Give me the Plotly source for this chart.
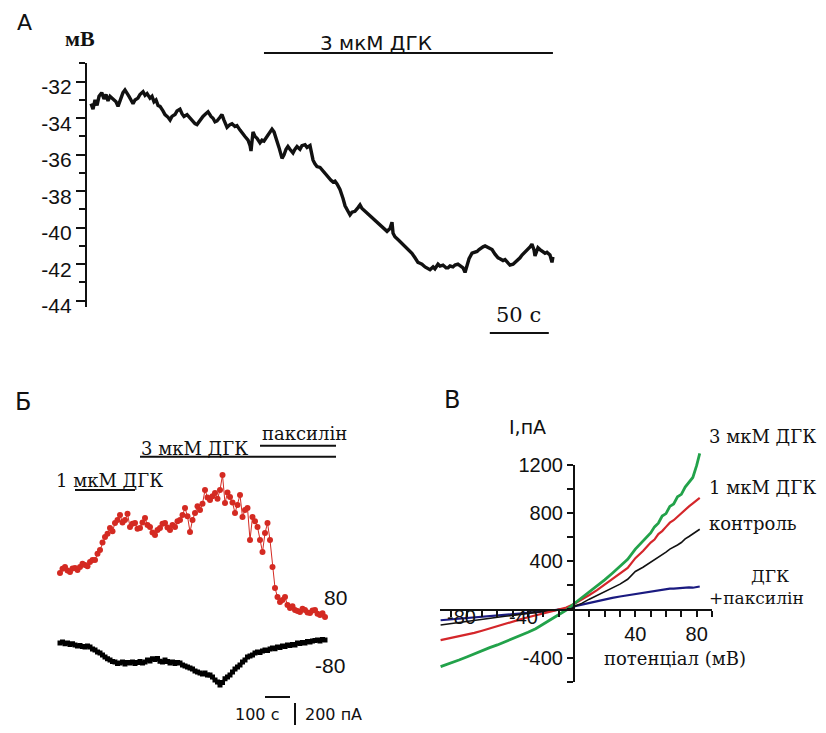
import plotly.graph_objects as go

# page body has an 8 px margin: the figure is sized to fit inside it
OFF = 8
W, H = 826 - 2 * OFF, 733 - 2 * OFF

def xp(px):
    return (px - OFF) / W

def yp(py):
    return 1 - (py - OFF) / H

# ---------------- Panel A: membrane potential (mV) vs time (s) ----------------
t_A = [0, 1.7, 3.4, 5.1, 6.8, 9.1, 11.0, 12.7, 14.4, 16.1, 18.6, 21.2, 22.9, 25.4, 27.1, 28.8,
       30.5, 32.2, 33.9, 35.6, 37.3, 39.8, 41.5, 44.1, 45.8, 47.5, 50.0, 51.7, 53.4, 55.1, 56.8,
       58.5, 61.0, 62.7, 65.3, 67.0, 68.6, 71.2, 72.9, 75.4, 77.1, 78.8, 81.4, 83.9, 85.6, 88.1,
       89.8, 92.4, 94.9, 96.6, 99.2, 101.7, 103.4, 105.1, 106.8, 109.3, 111.0, 112.7, 115.3,
       117.8, 119.5, 122.0, 123.7, 126.3, 128.8, 130.5, 133.1, 134.8, 135.6, 137.3, 139.0, 140.7,
       143.2, 144.9, 146.6, 149.2, 151.7, 153.4, 155.1, 157.6, 159.3, 161.9, 163.6, 165.3, 166.9,
       168.6, 171.2, 172.9, 174.6, 177.1, 178.8, 181.4, 183.1, 185.6, 188.2, 189.8, 191.5, 194.1,
       196.6, 199.2, 200.9, 203.4, 205.1, 206.8, 208.5, 211.0, 213.6, 215.3, 217.8, 219.5, 221.2,
       223.7, 226.3, 228.0, 229.7, 232.2, 234.8, 236.5, 238.1, 241.5, 244.9, 248.3, 250.9, 253.4,
       255.1, 256.0, 257.6, 261.0, 264.4, 267.0, 268.7, 270.4, 272.0, 274.6, 277.1, 278.8, 280.5,
       283.1, 284.8, 287.3, 289.9, 291.5, 294.1, 295.8, 298.3, 300.9, 302.6, 304.3, 306.8, 308.5,
       311.0, 312.7, 315.3, 317.0, 318.7, 320.4, 322.9, 325.5, 327.2, 328.9, 330.6, 332.3, 334.0,
       336.5, 338.2, 339.9, 342.4, 345.0, 346.6, 349.2, 350.9, 352.6, 355.1, 357.7, 359.3, 361.0,
       363.6, 365.3, 367.0, 369.5, 372.1, 373.7, 375.4, 376.3, 378.0, 378.8, 380.5, 382.2, 384.8,
       386.4, 389.0, 390.7, 391.5]
v_A = [-33.2, -33.5, -33.0, -33.3, -32.8, -32.6, -32.95, -32.7, -33.05, -32.8, -32.95, -33.1,
       -33.35, -32.9, -32.6, -32.45, -32.6, -32.8, -33.0, -33.2, -33.0, -32.9, -32.7, -32.55,
       -32.75, -32.65, -32.9, -32.8, -33.1, -33.0, -33.3, -33.35, -33.6, -33.8, -33.95, -34.1,
       -33.9, -33.8, -33.6, -33.5, -33.75, -33.9, -33.8, -34.0, -34.1, -34.3, -34.35, -34.1,
       -33.9, -33.8, -33.65, -33.9, -34.0, -34.2, -34.15, -33.95, -33.8, -34.1, -34.5, -34.35,
       -34.3, -34.45, -34.4, -34.65, -34.9, -35.0, -35.2, -35.5, -35.8, -34.75, -35.0, -35.1,
       -35.35, -35.2, -35.25, -35.0, -34.8, -34.6, -34.75, -35.2, -35.6, -36.2, -36.0, -35.7,
       -35.55, -35.7, -35.9, -35.7, -35.55, -35.7, -35.5, -35.45, -35.6, -35.5, -36.3, -36.5,
       -36.65, -36.7, -36.9, -37.05, -37.2, -37.4, -37.5, -37.45, -37.6, -37.9, -38.4, -38.8,
       -39.1, -39.3, -39.15, -39.1, -38.9, -38.75, -38.95, -39.1, -39.2, -39.3, -39.4, -39.6,
       -39.85, -40.0, -40.2, -40.05, -39.7, -40.3, -40.5, -40.7, -40.9, -41.05, -41.2, -41.25,
       -41.4, -41.65, -41.9, -41.95, -42.0, -42.15, -42.2, -42.3, -42.15, -42.25, -42.0, -42.1,
       -42.05, -42.2, -42.2, -42.1, -42.15, -42.05, -42.0, -42.1, -42.2, -42.45, -42.0, -41.7,
       -41.4, -41.35, -41.3, -41.2, -41.1, -41.05, -41.0, -41.1, -41.15, -41.2, -41.45, -41.65,
       -41.7, -41.8, -41.75, -41.9, -42.05, -42.0, -41.9, -41.85, -41.65, -41.5, -41.4, -41.2,
       -41.05, -40.9, -41.2, -41.55, -41.3, -41.1, -41.2, -41.3, -41.4, -41.35, -41.5, -41.9,
       -41.6]
ticks_A = [-44, -42, -40, -38, -36, -34, -32]
minor_A = [-43, -41, -39, -37, -35, -33, -31]
stim_A = [146.6, 391.5]          # 3 мкМ ДГК application (s)
scale_A = [338.0, 388.0]         # 50 s scale bar

# ---------------- Panel Б: currents at +80 / -80 mV vs time ----------------
t_B = list(range(0, 1061, 10))
i_pos80 = [536, 570, 584, 556, 544, 572, 576, 560, 584, 610, 600, 590, 624, 640, 640, 690,
           720, 780, 824, 850, 896, 870, 936, 960, 1000, 940, 960, 1010, 904, 930, 936, 890,
           896, 940, 976, 920, 904, 860, 840, 880, 896, 930, 936, 900, 880, 920, 904, 950,
           960, 1000, 1056, 990, 864, 960, 1016, 1070, 1040, 1090, 1200, 1140, 1120, 1150,
           1176, 1130, 1200, 1320, 1096, 1180, 1144, 1100, 1016, 1080, 1160, 984, 1040, 1056,
           800, 984, 950, 904, 800, 704, 856, 936, 800, 584, 416, 344, 304, 320, 344, 280,
           256, 270, 240, 232, 224, 250, 240, 220, 216, 236, 240, 210, 200, 214, 184]
i_neg80 = [-24, -16, -30, -24, -36, -30, -40, -48, -44, -52, -56, -48, -56, -72, -80, -96,
           -104, -120, -136, -150, -160, -172, -176, -188, -184, -176, -192, -180, -184, -176,
           -188, -180, -172, -184, -176, -160, -168, -150, -156, -148, -170, -176, -160, -172,
           -184, -176, -188, -180, -184, -200, -208, -216, -224, -232, -248, -256, -264, -272,
           -264, -280, -280, -296, -320, -336, -360, -340, -310, -296, -280, -256, -232, -216,
           -200, -176, -160, -136, -128, -120, -104, -96, -100, -88, -80, -84, -72, -64, -70,
           -56, -60, -48, -52, -40, -44, -36, -40, -24, -28, -20, -24, -12, -16, -8, -4, 0, -8,
           4, 0]
bar_1uM = [60, 300]       # s
bar_3uM = [320, 1104]
bar_pax = [800, 1104]
scale_t = [820, 920]      # 100 s
scale_i = [-504, -704]    # 200 pA

# ---------------- Panel В: I-V curves ----------------
v_iv = [-87, -80, -75, -70, -65, -60, -55, -50, -45, -40, -35, -30, -25, -20, -15, -10, -5,
        0, 5, 10, 15, 20, 25, 30, 35, 40, 45, 50, 52.5, 55, 57.5, 60, 62.5, 65, 67.5, 70, 72.5,
        75, 77.5, 80, 82]
i_3uM = [-470, -440, -415, -390, -362, -338, -312, -290, -265, -240, -212, -185, -155, -118,
         -80, -42, 0, 52, 100, 150, 200, 250, 305, 360, 420, 505, 570, 640, 690, 720, 780, 800,
         860, 880, 940, 960, 1020, 1060, 1100, 1200, 1300]
i_1uM = [-250, -232, -218, -205, -190, -172, -152, -132, -112, -95, -78, -60, -45, -30, -15,
         0, 20, 50, 85, 125, 165, 210, 255, 305, 350, 430, 490, 560, 585, 630, 655, 690, 725,
         745, 775, 800, 835, 860, 885, 910, 930]
i_ctrl = [-125, -112, -104, -95, -86, -78, -69, -60, -52, -45, -37, -30, -22, -15, -8, 0, 12,
          30, 55, 90, 120, 150, 180, 215, 255, 320, 355, 395, 420, 440, 455, 480, 505, 520,
          540, 560, 590, 610, 630, 650, 670]
i_pax = [-85, -78, -73, -68, -63, -58, -52, -46, -40, -35, -30, -25, -18, -12, -6, 0, 10, 30,
         45, 60, 75, 88, 100, 112, 122, 132, 142, 150, 158, 162, 170, 172, 178, 178, 182, 180,
         190, 188, 185, 192, 195]
yt_iv = [-600, -400, -200, 0, 200, 400, 600, 800, 1000, 1200]
yt_iv_text = ["", "-400", "", "", "", "400", "", "800", "", "1200"]
xt_iv = [-80, -70, -60, -50, -40, -30, -20, -10, 0, 10, 20, 30, 40, 50, 60, 70, 80, 90]
xt_iv_text = ["", "", "", "", "", "", "", "", "", "", "", "", "40", "", "", "", "80", ""]

fig = go.Figure()

# Panel A
fig.add_trace(go.Scatter(x=t_A, y=v_A, mode="lines", line=dict(color="#111111", width=3.4),
                         xaxis="x", yaxis="y", showlegend=False, hoverinfo="skip"))

# Panel Б
fig.add_trace(go.Scatter(x=t_B, y=i_pos80, mode="lines+markers",
                         line=dict(color="#d42a22", width=1),
                         marker=dict(color="#d42a22", size=6),
                         xaxis="x2", yaxis="y2", showlegend=False, hoverinfo="skip"))
fig.add_trace(go.Scatter(x=t_B, y=i_neg80, mode="lines+markers",
                         line=dict(color="#000000", width=3),
                         marker=dict(color="#000000", size=5, symbol="square"),
                         xaxis="x2", yaxis="y2", showlegend=False, hoverinfo="skip"))

# Panel В
for ys, col, w in [(i_pax, "#1a1a80", 2.2), (i_ctrl, "#111111", 1.6),
                   (i_1uM, "#d4262a", 2.2), (i_3uM, "#22a24a", 2.8)]:
    fig.add_trace(go.Scatter(x=v_iv, y=ys, mode="lines", line=dict(color=col, width=w),
                             xaxis="x3", yaxis="y3", showlegend=False, hoverinfo="skip"))
fig.add_trace(go.Scatter(x=[None], y=[None], mode="lines", xaxis="x3", yaxis="y4",
                         showlegend=False, hoverinfo="skip"))

tickfont = dict(family="Liberation Sans, Arial", size=21, color="#111111")

fig.update_layout(
    width=W, height=H, margin=dict(l=0, r=0, t=0, b=0, autoexpand=False),
    paper_bgcolor="white", plot_bgcolor="rgba(0,0,0,0)",
    xaxis=dict(domain=[xp(87), xp(556)], range=[-3.4, 394.1], visible=False,
               automargin=False),
    yaxis=dict(domain=[yp(306.7), yp(63.3)], range=[-44.33, -30.99], anchor="x",
               automargin=False,
               showline=True, linecolor="#111111", linewidth=2.2, showgrid=False,
               zeroline=False, ticks="outside", ticklen=9, tickwidth=2.2, tickcolor="#111111",
               tickvals=ticks_A, ticktext=[str(v) for v in ticks_A], tickfont=tickfont,
               ticklabelshift=5,
               minor=dict(tickvals=minor_A, ticks="outside", ticklen=6, tickwidth=2,
                          tickcolor="#111111", showgrid=False)),
    xaxis2=dict(domain=[xp(50), xp(340)], range=[-40, 1120], visible=False, anchor="y2",
                automargin=False),
    yaxis2=dict(domain=[yp(725), yp(420)], range=[-680, 1760], visible=False, anchor="x2",
                automargin=False),
    xaxis3=dict(domain=[xp(440), xp(712)], range=[-87.4, 90], anchor="free",
                automargin=False,
                position=yp(610), showline=True, linecolor="#111111", linewidth=2.2,
                showgrid=False, zeroline=False, ticks="outside", ticklen=6, tickwidth=2,
                tickcolor="#111111", tickvals=xt_iv, ticktext=xt_iv_text,
                tickfont=dict(family="Liberation Sans, Arial", size=20, color="#111111")),
    yaxis3=dict(domain=[yp(690), yp(440)], range=[-664, 1411], visible=False, anchor="x3",
                automargin=False),
    yaxis4=dict(domain=[yp(681.7), yp(465)], range=[-600, 1200], anchor="free",
                automargin=False,
                position=xp(574), showline=True, linecolor="#111111", linewidth=2.2,
                showgrid=False, zeroline=False, ticks="outside", ticklen=6, tickwidth=2,
                tickcolor="#111111", tickvals=yt_iv, ticktext=yt_iv_text,
                tickfont=dict(family="Liberation Sans, Arial", size=20, color="#111111")),
)

shapes = []
# A: stimulus bar and 50 s scale bar
shapes.append(dict(type="line", xref="x", yref="paper", x0=stim_A[0], x1=stim_A[1],
                   y0=yp(53), y1=yp(53), line=dict(color="#111111", width=2.2)))
shapes.append(dict(type="line", xref="x", yref="paper", x0=scale_A[0], x1=scale_A[1],
                   y0=yp(333), y1=yp(333), line=dict(color="#111111", width=2.2)))
# Б: drug bars, scale bars
for (a, b), yv in [(bar_1uM, 1200), (bar_3uM, 1466), (bar_pax, 1554)]:
    shapes.append(dict(type="line", xref="x2", yref="y2", x0=a, x1=b, y0=yv, y1=yv,
                       line=dict(color="#111111", width=2)))
shapes.append(dict(type="line", xref="x2", yref="y2", x0=scale_t[0], x1=scale_t[1],
                   y0=-456, y1=-456, line=dict(color="#111111", width=2)))
shapes.append(dict(type="line", xref="x2", yref="y2", x0=940, x1=940,
                   y0=scale_i[0], y1=scale_i[1], line=dict(color="#111111", width=2)))
fig.update_layout(shapes=shapes)

sans = "DejaVu Sans"
serif = "DejaVu Serif"
ann = []

def add(text, x, y, size, family, xref="paper", yref="paper", xanchor="center", bold=False,
        color="#111111"):
    ann.append(dict(text=f"<b>{text}</b>" if bold else text, x=x, y=y, xref=xref, yref=yref,
                    xanchor=xanchor, yanchor="middle", showarrow=False,
                    font=dict(family=family, size=size, color=color)))

# Panel letters
add("А", xp(24), yp(22), 22, sans)
add("Б", xp(23), yp(402), 24, sans)
add("В", xp(452), yp(400), 24, sans)
# Panel A texts
add("мВ", xp(80), yp(38), 22, "Liberation Serif", bold=True)
add("3 мкМ ДГК", xp(376), yp(43), 20, sans)
add("50 с", xp(518), yp(315), 21, serif)
# Panel Б texts
add("1 мкМ ДГК", xp(110), yp(480), 18, serif)
add("3 мкМ ДГК", xp(194), yp(448), 18, serif)
add("паксилін", xp(304), yp(433), 18, serif)
add("80", xp(335), yp(597), 21, "Liberation Sans")
add("-80", xp(330), yp(665), 21, "Liberation Sans")
add("100 с", xp(257), yp(714), 16, sans)
add("200 пА", xp(333), yp(714), 16, sans)
# Panel В texts
add("I,пА", xp(527), yp(427), 19, sans)
add("-80", xp(461), yp(617), 20, "Liberation Sans")
add("-40", xp(523), yp(617), 20, "Liberation Sans")
add("3 мкМ ДГК", xp(707), yp(437), 18, serif, xanchor="left")
add("1 мкМ ДГК", xp(707), yp(487), 18, serif, xanchor="left")
add("контроль", xp(707), yp(523), 18, serif, xanchor="left")
add("ДГК", xp(770), yp(576), 17, serif)
add("+паксилін", xp(707), yp(598), 17, serif, xanchor="left")
add("потенціал (мВ)", xp(602), yp(658), 18, serif, xanchor="left")
fig.update_layout(annotations=ann)

fig.write_html("out.html")
